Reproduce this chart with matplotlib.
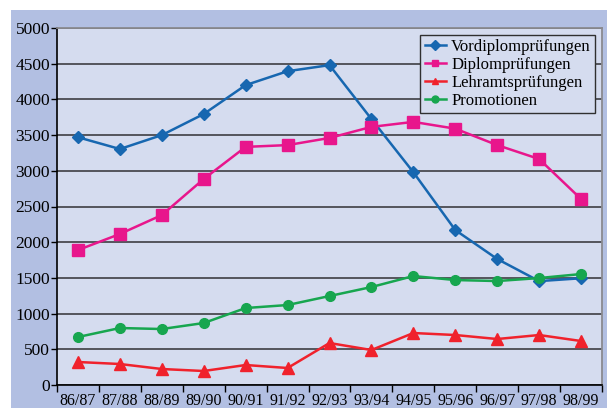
import matplotlib
matplotlib.use("Agg")
import matplotlib.pyplot as plt
from matplotlib.patches import Rectangle
from matplotlib import font_manager

categories = ["86/87", "87/88", "88/89", "89/90", "90/91", "91/92", "92/93",
              "93/94", "94/95", "95/96", "96/97", "97/98", "98/99"]
vordiplom = [3470, 3305, 3500, 3795, 4200, 4395, 4480, 3725, 2980, 2170, 1765, 1455, 1495]
diplom = [1890, 2115, 2380, 2885, 3335, 3360, 3460, 3615, 3685, 3590, 3360, 3165, 2605]
lehramt = [322, 294, 224, 196, 280, 238, 588, 490, 728, 700, 644, 700, 616]
promotionen = [672, 798, 784, 868, 1078, 1120, 1246, 1372, 1526, 1470, 1456, 1498, 1554]
series_names = ["Vordiplomprüfungen", "Diplomprüfungen", "Lehramtsprüfungen", "Promotionen"]
yticks = [0, 500, 1000, 1500, 2000, 2500, 3000, 3500, 4000, 4500, 5000]

names = {f.name for f in font_manager.fontManager.ttflist}
fam = "Liberation Serif"
for cand in ["DejaVu Serif Condensed"]:
    if cand in names:
        fam = cand
        break
plt.rcParams['font.family'] = [fam, 'DejaVu Serif']

W, H = 607, 408
fig = plt.figure(figsize=(W / 100, H / 100), dpi=100)
fig.patch.set_facecolor("white")
bg = Rectangle((11 / W, 0), 1 - 11 / W, (H - 10) / H,
               transform=fig.transFigure, facecolor="#b2bfe2",
               edgecolor="none", zorder=-5)
fig.add_artist(bg)

ax = fig.add_axes([57 / W, (H - 385) / H, (602 - 57) / W, (385 - 28) / H])
ax.set_zorder(1)
ax.set_facecolor("#d5dcef")

x = list(range(len(categories)))
ax.plot(x, vordiplom, color="#1767b0", marker="D", markersize=6, lw=1.8, label=series_names[0], zorder=4)
ax.plot(x, diplom, color="#e8168c", marker="s", markersize=8, lw=1.8, label=series_names[1], zorder=4)
ax.plot(x, lehramt, color="#f0222c", marker="^", markersize=8, lw=1.8, label=series_names[2], zorder=4)
ax.plot(x, promotionen, color="#17a64f", marker="o", markersize=7, lw=1.8, label=series_names[3], zorder=4)

ax.set_xlim(-0.5, len(categories) - 0.5)
ax.set_ylim(0, 5000)
ax.set_yticks(yticks)
ax.set_yticklabels([str(v) for v in yticks], fontsize=12.5)
ax.set_xticks(x)
ax.set_xticklabels(categories, fontsize=11.5)
ax.set_xticks([i - 0.5 for i in range(len(categories) + 1)], minor=True)
ax.tick_params(axis="x", which="major", length=0, pad=6)
ax.tick_params(axis="x", which="minor", length=5, width=1, direction="out")
ax.tick_params(axis="y", length=4, width=1, direction="out", pad=1)
ax.grid(axis="y", color="#4a4a50", lw=1.3, zorder=1)
ax.set_axisbelow(True)

for s in ["left", "bottom"]:
    ax.spines[s].set_color("black")
    ax.spines[s].set_linewidth(1.2)
for s in ["top", "right"]:
    ax.spines[s].set_color("#8a8a90")
    ax.spines[s].set_linewidth(1.3)

leg = ax.legend(loc="upper right", bbox_to_anchor=(595 / W, (H - 35) / H),
                bbox_transform=fig.transFigure, fontsize=12, frameon=True,
                fancybox=False, borderpad=0.25, labelspacing=0.12,
                handlelength=1.3, handletextpad=0.3, borderaxespad=0)
leg.get_frame().set_facecolor("#d5dcef")
leg.get_frame().set_edgecolor("#303030")
leg.get_frame().set_alpha(1)
leg.get_frame().set_linewidth(1.0)
for h in leg.legend_handles:
    h.set_markersize(5)

fig.savefig("out.png", dpi=100)
